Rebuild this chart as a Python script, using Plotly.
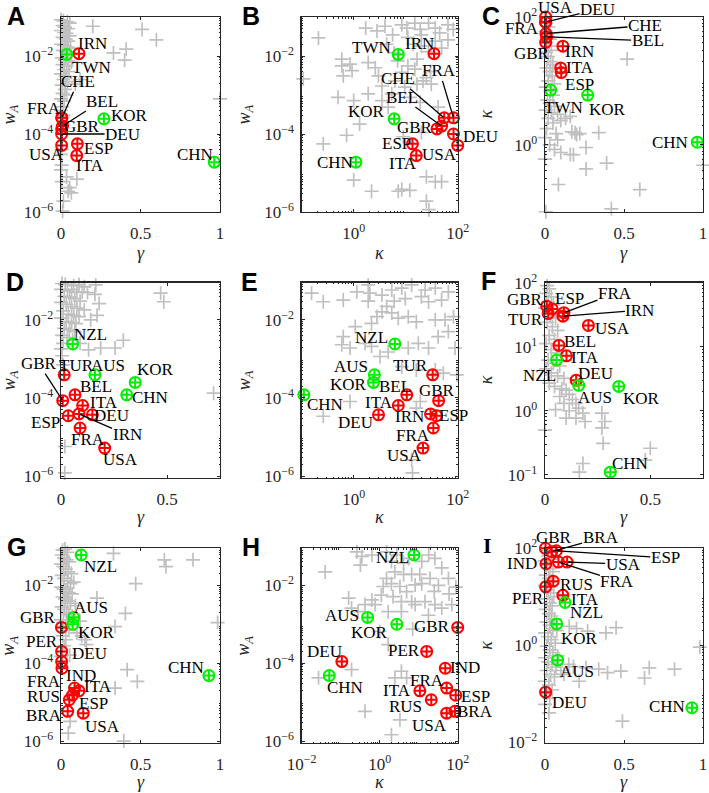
import numpy as np
import plotly.graph_objects as go

W, H = 709, 793
SERIF = "Liberation Serif"
GRAY = "#C0C0C0"
RED = "#FF0000"
GREEN = "#00F000"
AXC = "#262626"

# ---------------- highlighted countries ----------------
names1 = ['IRN', 'TWN', 'CHE', 'FRA', 'BEL', 'GBR', 'DEU', 'USA', 'ESP', 'ITA', 'KOR', 'CHN']
grp1 = ['r', 'g', 'r', 'r', 'r', 'r', 'r', 'r', 'r', 'r', 'g', 'g']
gamma1 = [0.113, 0.036, 0.006, 0.004, 0.01, 0.004, 0.004, 0.004, 0.103, 0.099, 0.27, 0.964]
kappa1 = [35, 7.2, 55, 83, 49, 40, 83, 100, 13.5, 16, 6.0, 1.1]
wA1 = [0.0115, 0.011, 2.6e-4, 2.6e-4, 1.6e-4, 1.35e-4, 1.0e-4, 5.1e-5, 5.6e-5, 2.8e-5, 2.45e-4, 1.9e-5]

names2 = ['NZL', 'TUR', 'AUS', 'KOR', 'CHN', 'GBR', 'BEL', 'ITA', 'DEU', 'IRN', 'ESP', 'FRA', 'USA']
grp2 = ['g', 'r', 'g', 'g', 'g', 'r', 'r', 'r', 'r', 'r', 'r', 'r', 'r']
gamma2 = [0.055, 0.015, 0.16, 0.35, 0.31, 0.008, 0.066, 0.102, 0.148, 0.085, 0.034, 0.09, 0.206]
kappa2 = [6.2, 33, 2.5, 2.4, 0.11, 43, 10.5, 7.2, 3.0, 30, 39, 34, 21.5]
wA2 = [2.4e-3, 3.9e-4, 3.9e-4, 2.5e-4, 1.2e-4, 8.5e-5, 1.2e-4, 6.4e-5, 3.7e-5, 3.9e-5, 3.5e-5, 1.7e-5, 5.2e-6]

names3 = ['NZL', 'AUS', 'KOR', 'GBR', 'PER', 'DEU', 'IND', 'CHN', 'FRA', 'ITA', 'ESP', 'RUS', 'BRA', 'USA']
grp3 = ['g', 'g', 'g', 'r', 'r', 'r', 'r', 'g', 'r', 'r', 'r', 'r', 'r', 'r']
gamma3 = [0.127, 0.08, 0.074, 0.003, 0.004, 0.004, 0.006, 0.93, 0.085, 0.113, 0.072, 0.052, 0.042, 0.14]
kappa3 = [7.6, 0.49, 2.75, 100, 16, 0.107, 48, 0.051, 52, 10.7, 89, 21, 85, 52]
wA3 = [0.06, 1.5e-3, 1.0e-3, 8.3e-4, 2.0e-4, 1.1e-4, 7.4e-5, 4.8e-5, 2.3e-5, 1.95e-5, 1.5e-5, 1.15e-5, 5.8e-6, 5.2e-6]

# ---------------- background (gray) countries ----------------
A_gray = [(0.005,0.16),(0.02,0.15),(0.035,0.14),(0.01,0.12),(0.03,0.11),(0.045,0.1),(0.0,0.085),(0.015,0.08),(0.04,0.075),(0.055,0.07),(0.01,0.06),(0.025,0.055),(0.045,0.05),(0.0,0.045),(0.02,0.04),(0.035,0.038),(0.055,0.033),(0.01,0.03),(0.03,0.027),(0.045,0.024),(0.0,0.02),(0.02,0.019),(0.04,0.017),(0.06,0.016),(0.01,0.014),(0.03,0.013),(0.05,0.012),(0.005,0.009),(0.025,0.008),(0.045,0.0075),(0.065,0.007),(0.01,0.006),(0.035,0.0055),(0.02,0.0045),(0.05,0.004),(0.0,0.0035),(0.03,0.003),(0.015,0.0025),(0.04,0.0022),(0.09,0.0019),(0.12,0.0025),(0.005,0.0018),(0.025,0.0014),(0.01,0.0011),(0.035,0.001),(0.0,0.0008),(0.02,0.0007),(0.01,0.0005),(0.0,0.0004),(0.015,0.0003),(0.2,0.058),(0.51,0.048),(0.6,0.026),(0.33,0.012),(0.41,0.015),(0.4,0.0078),(1.0,0.0008),(0.0,3e-5),(0.005,1.6e-5),(0.035,8e-6),(0.1,7e-6),(0.005,6e-6),(0.045,3.4e-6),(0.065,3.1e-6),(0.055,4.2e-6),(0.015,1.9e-6),(0.01,1.05e-6),(0.0,1.2e-5),(0.005,4e-5)]

B_gray = [(0.21,0.029),(0.107,0.0026),(0.59,0.0083),(0.59,0.0056),(0.85,0.0062),(0.93,0.0042),(0.63,0.0031),(0.5,0.00087),(1.0,0.00072),(1.3,0.00018),(0.73,9.3e-5),(0.26,5.6e-5),(1.0,6.6e-6),(2.2,3.4e-6),(7.2,3.4e-6),(8.4,3.8e-6),(12,3.6e-6),(25,8e-6),(37,6e-6),(25,1.9e-6),(28,1.15e-6),(1.7,0.052),(2.8,0.044),(4.0,0.058),(5.6,0.035),(8.4,0.063),(10.5,0.052),(15,0.07),(19,0.048),(20,0.035),(27.5,0.07),(37,0.052),(45,0.039),(65,0.063),(82,0.048),(4.3,0.02),(11,0.03),(14,0.02),(20,0.018),(27.5,0.013),(16.5,0.0083),(11,0.0056),(15,0.0046),(8.4,0.0038),(6.2,0.0023),(9.6,0.0016),(16.5,0.0019),(21.5,0.0023),(31,0.0019),(5.4,0.00107),(3.5,0.00072),(4.6,0.00049),(12,0.00087),(19,0.00065),(42,0.00049),(1.9,0.0068),(2.6,0.005),(3.0,0.0031),(3.5,0.0017),(1.9,0.00107),(49,6e-6),(9,8.5e-5),(20,0.00011),(37,0.024),(49,0.016),(65,0.026),(30,0.004),(25,0.0028),(6,0.012),(7,0.0075)]

C_gray = [(0.005,95),(0.01,80),(0.02,70),(0.005,60),(0.015,50),(0.03,45),(0.01,40),(0.025,35),(0.04,30),(0.005,28),(0.02,24),(0.035,20),(0.05,18),(0.01,16),(0.03,14),(0.045,12),(0.02,10),(0.06,9),(0.005,8),(0.035,7),(0.05,6),(0.015,5),(0.03,4.5),(0.06,4),(0.005,3.5),(0.04,3.2),(0.08,3),(0.02,2.6),(0.1,2.4),(0.05,2.2),(0.13,2.6),(0.16,2.8),(0.01,1.8),(0.07,1.5),(0.19,1.55),(0.2,1.45),(0.17,1.6),(0.22,1.5),(0.08,1.2),(0.03,1.0),(0.06,0.85),(0.1,0.76),(0.16,0.71),(0.18,0.7),(0.26,0.91),(0.34,1.55),(0.39,0.52),(0.26,0.42),(0.085,0.24),(0.6,0.2),(0.42,0.1),(1.0,0.48),(0.005,0.09),(0.52,22),(0.0,1.3),(0.0,0.6)]

D_gray = [(0.005,0.085),(0.02,0.08),(0.04,0.09),(0.06,0.075),(0.085,0.08),(0.11,0.07),(0.0,0.06),(0.03,0.055),(0.05,0.06),(0.075,0.05),(0.1,0.052),(0.125,0.05),(0.015,0.04),(0.04,0.038),(0.065,0.035),(0.09,0.03),(0.0,0.028),(0.025,0.025),(0.05,0.022),(0.075,0.02),(0.11,0.018),(0.01,0.017),(0.035,0.014),(0.06,0.013),(0.085,0.012),(0.0,0.011),(0.025,0.009),(0.05,0.0085),(0.07,0.008),(0.015,0.006),(0.04,0.0055),(0.065,0.005),(0.005,0.004),(0.03,0.0035),(0.055,0.003),(0.01,0.0025),(0.09,0.0025),(0.0,0.0018),(0.164,0.078),(0.18,0.026),(0.17,0.013),(0.14,0.01),(0.16,0.045),(0.47,0.048),(0.485,0.029),(0.294,0.003),(0.255,0.0019),(0.187,0.0019),(0.13,0.0017),(0.72,0.000132),(0.018,5.7e-6),(0.018,1.2e-6),(0.005,0.0012),(0.01,0.0007)]

E_gray = [(0.093,0.048),(0.155,0.048),(0.26,0.029),(0.63,0.032),(1.15,0.052),(1.9,0.078),(2.05,0.048),(3.5,0.043),(5.4,0.058),(8.4,0.065),(13,0.078),(23.6,0.058),(37,0.065),(66,0.052),(49,0.032),(27.5,0.029),(20,0.039),(9.8,0.035),(4.3,0.022),(3.5,0.016),(5.4,0.015),(7.2,0.011),(11.2,0.012),(16,0.0089),(37,0.01),(57,0.01),(83,0.012),(2.2,0.0081),(1.07,0.0067),(0.63,0.0037),(0.59,0.0023),(0.85,0.0019),(1.65,0.0025),(2.2,0.0021),(3.2,0.00115),(4.6,0.0015),(11.2,0.0019),(17.5,0.0025),(27.5,0.0019),(42,0.0037),(66,0.005),(89,0.0019),(8.4,0.00063),(16,0.00052),(37,0.00052),(53,0.00043),(96,0.00039),(0.85,8.1e-5),(0.26,3.4e-5),(19,8.1e-5),(16,5.5e-5),(13,2.6e-6),(13.5,1.2e-6),(1.9,0.03),(6,0.03),(2.8,0.012)]

F_gray = [(0.003,104),(0.01,90),(0.02,80),(0.005,68),(0.03,60),(0.015,50),(0.04,45),(0.0,40),(0.025,30),(0.05,28),(0.01,24),(0.035,20.6),(0.06,18),(0.02,15),(0.045,13),(0.005,11.2),(0.03,9),(0.055,8),(0.015,6.2),(0.04,5.5),(0.07,5),(0.005,4.5),(0.03,3.9),(0.06,3.5),(0.09,3.2),(0.02,2.7),(0.045,2.4),(0.08,2.2),(0.1,2.1),(0.115,1.8),(0.07,1.67),(0.13,1.5),(0.147,1.3),(0.09,1.3),(0.16,1.1),(0.05,1.04),(0.115,1.0),(0.18,0.92),(0.1,0.77),(0.147,0.77),(0.19,0.68),(0.27,0.92),(0.284,0.68),(0.27,0.54),(0.276,0.31),(0.18,0.15),(0.163,0.11),(0.5,0.26),(0.476,0.17),(0.756,0.144),(0.0,0.5)]

G_gray = [(0.0,0.09),(0.01,0.08),(0.025,0.085),(0.04,0.07),(0.005,0.06),(0.02,0.05),(0.035,0.045),(0.05,0.04),(0.0,0.035),(0.015,0.03),(0.03,0.026),(0.045,0.022),(0.065,0.02),(0.005,0.018),(0.02,0.015),(0.04,0.013),(0.06,0.011),(0.08,0.012),(0.0,0.009),(0.015,0.008),(0.03,0.007),(0.05,0.0065),(0.07,0.006),(0.01,0.005),(0.025,0.0045),(0.04,0.004),(0.06,0.0035),(0.09,0.003),(0.005,0.0028),(0.02,0.0024),(0.035,0.002),(0.05,0.0018),(0.07,0.0016),(0.12,0.0012),(0.0,0.0013),(0.015,0.0011),(0.03,0.0009),(0.05,0.0007),(0.1,0.0006),(0.13,0.0005),(0.01,0.0005),(0.03,0.0004),(0.02,0.00028),(0.055,0.00016),(0.0,0.00015),(0.33,0.066),(0.65,0.045),(0.66,0.03),(0.83,0.045),(0.47,0.011),(0.226,0.0047),(0.405,0.0019),(0.34,0.00087),(0.985,0.0011),(0.15,0.0004),(0.16,0.0003),(0.416,6.8e-5),(0.48,3.4e-5),(0.34,2.3e-5),(0.057,3.2e-6),(0.046,1.6e-6),(0.395,1e-6)]

H_gray = [(0.04,0.022),(0.26,0.072),(0.35,0.055),(0.32,0.033),(0.63,0.06),(1.5,0.072),(2.0,0.041),(2.75,0.06),(4.1,0.037),(5.5,0.049),(12,0.041),(18,0.06),(26,0.049),(39,0.028),(58,0.015),(32,0.01),(19.5,0.015),(10.7,0.019),(6.6,0.019),(4.1,0.019),(2.45,0.022),(1.5,0.015),(1.23,0.0093),(2.0,0.011),(3.3,0.0093),(4.9,0.0069),(8.1,0.0102),(12,0.011),(6.6,0.0038),(3.6,0.0038),(2.2,0.0051),(1.1,0.0056),(0.63,0.0042),(0.16,0.0047),(0.19,0.0026),(0.28,0.0021),(0.42,0.0032),(0.76,0.0032),(1.65,0.0021),(3.6,0.0021),(8.1,0.0032),(14.5,0.0038),(26,0.0032),(39,0.0026),(71,0.0032),(1.0,0.00065),(1.65,0.0003),(3.6,6.2e-5),(4.9,4.2e-5),(2.45,4.2e-5),(0.42,5.8e-6),(2.0,1.45e-6),(3.3,3.5e-6),(0.19,6.8e-5),(0.027,4.2e-5),(17.8,0.0017),(7,0.00075),(60,0.006),(90,0.009),(25,0.007)]

I_gray = [(0.005,90),(0.02,70),(0.04,60),(0.0,55),(0.015,45),(0.03,38),(0.05,33),(0.005,28),(0.025,24),(0.04,20),(0.0,17),(0.02,14),(0.035,12),(0.055,10),(0.01,9),(0.03,7.5),(0.045,6.5),(0.005,5.5),(0.025,4.5),(0.04,4),(0.06,3.5),(0.01,3),(0.03,2.6),(0.05,2.2),(0.075,2.0),(0.0,1.8),(0.02,1.5),(0.04,1.3),(0.065,1.1),(0.01,0.95),(0.03,0.8),(0.05,0.7),(0.08,0.6),(0.0,0.55),(0.02,0.45),(0.045,0.4),(0.07,0.35),(0.01,0.3),(0.035,0.25),(0.06,0.22),(0.0,0.18),(0.025,0.15),(0.045,0.12),(0.01,0.1),(0.03,0.08),(0.0,0.06),(0.025,0.04),(0.153,2.45),(0.2,2.2),(0.27,1.95),(0.386,1.8),(0.45,2.3),(0.98,0.91),(0.15,0.4),(0.18,0.36),(0.26,0.34),(0.34,0.32),(0.396,0.27),(0.48,0.29),(0.66,0.34),(0.63,0.21),(0.82,0.32),(0.216,0.18),(0.49,0.027),(0.1,0.3),(0.12,0.25)]

# ---------------- label placement (pixel offsets from point, leader line?) ----------------
labA = {'IRN':(14,-10,0),'TWN':(25,13,0),'CHE':(16,-36,1),'FRA':(-18,-9,0),'BEL':(39,-25,1),'GBR':(20,-2,0),
        'DEU':(61,0,1),'USA':(-15,9,0),'ESP':(21,5,0),'ITA':(13,10,0),'KOR':(26,-3,0),'CHN':(-19,-8,0)}
labB = {'TWN':(-27,-7,0),'IRN':(-14,-10,0),'FRA':(-14,-47,1),'CHE':(-46,-39,1),'BEL':(-40,-29,1),'GBR':(-22,-1,0),
        'DEU':(27,2,0),'USA':(-18,9,0),'ESP':(-16,0,0),'ITA':(-13,8,0),'KOR':(-28,-7,0),'CHN':(-21,0,0)}
labC = {'USA':(10,-10,0),'DEU':(52,-13,1),'FRA':(-24,6,0),'CHE':(99,-8,1),'BEL':(101,4,1),'GBR':(-14,11,0),
        'IRN':(17,5,0),'ITA':(19,0,0),'ESP':(18,12,0),'TWN':(13,17,0),'KOR':(20,14,0),'CHN':(-27,0,0)}
labD = {'NZL':(18,-10,0),'TUR':(12,-9,0),'AUS':(13,-9,0),'KOR':(20,-13,0),'CHN':(23,3,0),'GBR':(-24,-37,1),
        'BEL':(21,-8,0),'ITA':(21,-3,0),'DEU':(19,1,0),'IRN':(48,21,1),'ESP':(-23,7,0),'FRA':(8,12,0),'USA':(16,11,0)}
labE = {'NZL':(-23,-7,0),'AUS':(-23,-8,0),'KOR':(-25,2,0),'CHN':(21,10,0),'TUR':(-22,-9,0),'BEL':(-12,-8,0),
        'GBR':(-2,-10,0),'ITA':(-19,-3,0),'DEU':(-23,8,0),'IRN':(-21,3,0),'ESP':(17,0,0),'FRA':(-20,8,0),'USA':(-18,7,0)}
labF = {'GBR':(-22,-7,0),'ESP':(17,-10,0),'TUR':(-23,6,0),'FRA':(51,-19,1),'IRN':(77,-6,1),'USA':(24,3,0),
        'BEL':(21,-4,0),'ITA':(19,2,0),'NZL':(-17,15,0),'DEU':(19,-7,0),'AUS':(16,12,0),'KOR':(23,12,0),'CHN':(20,-9,0)}
labG = {'NZL':(19,12,0),'AUS':(17,-10,0),'KOR':(24,8,0),'GBR':(-23,-10,0),'PER':(-20,-10,0),'DEU':(28,-8,0),
        'IND':(19,7,0),'CHN':(-23,-8,0),'FRA':(-31,-7,0),'ITA':(19,-4,0),'ESP':(21,8,0),'RUS':(-26,-3,0),
        'BRA':(-24,4,0),'USA':(19,13,0)}
labH = {'NZL':(-22,3,0),'AUS':(-26,-2,0),'KOR':(-27,8,0),'GBR':(-26,-1,0),'PER':(-23,-1,0),'DEU':(-17,-10,0),
        'IND':(20,-1,0),'CHN':(16,12,0),'ITA':(-23,0,0),'FRA':(-20,-8,0),'ESP':(20,1,0),'RUS':(-26,7,0),
        'USA':(-17,12,0),'BRA':(20,0,0)}
labI = {'GBR':(9,-11,0),'BRA':(49,-14,1),'ESP':(109,7,1),'USA':(56,2,1),'FRA':(59,19,1),'IND':(-24,0,0),
        'RUS':(23,3,0),'PER':(-18,12,0),'ITA':(22,4,0),'NZL':(21,10,0),'KOR':(23,15,0),'AUS':(19,11,0),
        'DEU':(24,10,0),'CHN':(-25,-1,0)}

# ---------------- panel geometry (pixels) ----------------
cols = [(61, 220), (301.7, 457.7), (545, 703)]
rows = [(17, 212), (282.7, 478), (548.3, 743)]

panels = [
    dict(L='A', n=names1, g=grp1, x=gamma1, y=wA1, gray=A_gray, xl=False, yl=True, xr=[0, 1], yr=[-6, -1], xt=[0, 0.5, 1], yt=[1e-6, 1e-4, 1e-2], xv='γ', yv='w', lab=labA),
    dict(L='B', n=names1, g=grp1, x=kappa1, y=wA1, gray=B_gray, xl=True, yl=True, xr=[-1, 2], yr=[-6, -1], xt=[1, 100], yt=[1e-6, 1e-4, 1e-2], xv='κ', yv='w', lab=labB),
    dict(L='C', n=names1, g=grp1, x=gamma1, y=kappa1, gray=C_gray, xl=False, yl=True, xr=[0, 1], yr=[-1.05, 2], xt=[0, 0.5, 1], yt=[1, 100], xv='γ', yv='κ', lab=labC),
    dict(L='D', n=names2, g=grp2, x=gamma2, y=wA2, gray=D_gray, xl=False, yl=True, xr=[0, 0.75], yr=[-6.05, -1.05], xt=[0, 0.5], yt=[1e-6, 1e-4, 1e-2], xv='γ', yv='w', lab=labD),
    dict(L='E', n=names2, g=grp2, x=kappa2, y=wA2, gray=E_gray, xl=True, yl=True, xr=[-1, 2], yr=[-6.05, -1.05], xt=[1, 100], yt=[1e-6, 1e-4, 1e-2], xv='κ', yv='w', lab=labE),
    dict(L='F', n=names2, g=grp2, x=gamma2, y=kappa2, gray=F_gray, xl=False, yl=True, xr=[0, 0.75], yr=[-1.05, 2], xt=[0, 0.5], yt=[0.1, 1, 10, 100], xv='γ', yv='κ', lab=labF),
    dict(L='G', n=names3, g=grp3, x=gamma3, y=wA3, gray=G_gray, xl=False, yl=True, xr=[0, 1], yr=[-6.05, -1.05], xt=[0, 0.5, 1], yt=[1e-6, 1e-4, 1e-2], xv='γ', yv='w', lab=labG),
    dict(L='H', n=names3, g=grp3, x=kappa3, y=wA3, gray=H_gray, xl=True, yl=True, xr=[-2, 2], yr=[-6.05, -1.05], xt=[0.01, 1, 100], yt=[1e-6, 1e-4, 1e-2], xv='κ', yv='w', lab=labH),
    dict(L='I', n=names3, g=grp3, x=gamma3, y=kappa3, gray=I_gray, xl=False, yl=True, xr=[0, 1], yr=[-2.02, 2], xt=[0, 0.5, 1], yt=[0.01, 1, 100], xv='γ', yv='κ', lab=labI),
]

def logtxt(v):
    e = int(round(np.log10(v)))
    s = str(e).replace('-', '−')
    return f"10<sup>{s}</sup>"

def lintxt(v):
    return f"{v:g}"

def minor_vals(r):
    vals = []
    for k in range(int(np.floor(r[0])) - 1, int(np.ceil(r[1])) + 1):
        for m in range(2, 10):
            v = m * 10.0 ** k
            if r[0] <= np.log10(v) <= r[1]:
                vals.append(v)
    return vals

fig = go.Figure()
layout = dict(width=W, height=H, autosize=False, margin=dict(l=0, r=0, t=0, b=0, pad=0, autoexpand=False),
              plot_bgcolor='white', paper_bgcolor='white', showlegend=False)
annotations = []
tfont = dict(family=SERIF, size=17, color='black')

for i, p in enumerate(panels):
    k = i + 1
    sfx = '' if k == 1 else str(k)
    xa, ya = 'x' + sfx, 'y' + sfx
    col, row = i % 3, i // 3
    c0, c1 = cols[col]
    r0, r1 = rows[row]

    gx = [a for a, b in p['gray']]
    gy = [b for a, b in p['gray']]
    fig.add_trace(go.Scatter(x=gx, y=gy, mode='markers', xaxis=xa, yaxis=ya, cliponaxis=False,
                             hoverinfo='skip',
                             marker=dict(symbol='cross-thin', size=10, color=GRAY,
                                         line=dict(width=1.7, color=GRAY))))
    for grp, colr in (('r', RED), ('g', GREEN)):
        idx = [j for j, gg in enumerate(p['g']) if gg == grp]
        fig.add_trace(go.Scatter(x=[p['x'][j] for j in idx], y=[p['y'][j] for j in idx],
                                 mode='markers', xaxis=xa, yaxis=ya, cliponaxis=False,
                                 text=[p['n'][j] for j in idx],
                                 marker=dict(symbol='circle-cross-open', size=11, color=colr,
                                             line=dict(width=2, color=colr))))

    common = dict(showline=True, linecolor=AXC, linewidth=1.3, mirror='ticks', ticks='inside',
                  ticklen=3, tickwidth=1, tickcolor=AXC, showgrid=False, zeroline=False,
                  automargin=False,
                  tickfont=dict(family=SERIF, size=17, color=AXC), tickangle=0)
    xax = dict(common, domain=[c0 / W, c1 / W], anchor=ya, range=p['xr'],
               type='log' if p['xl'] else 'linear', tickvals=p['xt'],
               ticktext=[logtxt(v) if p['xl'] else lintxt(v) for v in p['xt']],
               ticklabelstandoff=5)
    if p['xl']:
        xax['minor'] = dict(ticks='inside', ticklen=1.5, tickcolor=AXC, tickvals=minor_vals(p['xr']))
    yax = dict(common, domain=[1 - r1 / H, 1 - r0 / H], anchor=xa, range=p['yr'],
               type='log' if p['yl'] else 'linear', tickvals=p['yt'],
               ticktext=[logtxt(v) if p['yl'] else lintxt(v) for v in p['yt']],
               ticklabelstandoff=3)
    if p['yl']:
        yax['minor'] = dict(ticks='inside', ticklen=1.5, tickcolor=AXC, tickvals=minor_vals(p['yr']))
    layout['xaxis' + sfx] = xax
    layout['yaxis' + sfx] = yax

    # country labels
    for j, nm in enumerate(p['n']):
        dx, dy, lead = p['lab'][nm]
        X = np.log10(p['x'][j]) if p['xl'] else p['x'][j]
        Y = np.log10(p['y'][j]) if p['yl'] else p['y'][j]
        if lead:
            annotations.append(dict(x=X, y=Y, xref=xa, yref=ya, text=nm, font=tfont,
                                    showarrow=True, ax=dx, ay=dy, arrowhead=0, arrowwidth=1.3,
                                    arrowcolor='black', standoff=1, borderpad=0))
        else:
            annotations.append(dict(x=X, y=Y, xref=xa, yref=ya, text=nm, font=tfont,
                                    showarrow=False, xshift=dx, yshift=-dy,
                                    xanchor='center', yanchor='middle'))

    # axis titles
    xtitle_y = [253, 517, 782][row]
    annotations.append(dict(x=(c0 + c1) / 2 / W, y=1 - xtitle_y / H, xref='paper', yref='paper',
                            text=f"<i>{p['xv']}</i>", showarrow=False, font=dict(family=SERIF, size=18, color=AXC),
                            xanchor='center', yanchor='middle'))
    ytxt = "<i>w</i><sub><i>A</i></sub>" if p['yv'] == 'w' else "<i>κ</i>"
    annotations.append(dict(x=[10, 245, 486][col] / W, y=1 - (r0 + r1) / 2 / H, xref='paper', yref='paper',
                            text=ytxt, textangle=-90, showarrow=False,
                            font=dict(family=SERIF, size=18, color=AXC), xanchor='center', yanchor='middle'))

# panel letters
letters = [('A', 16, 16), ('B', 251, 16), ('C', 491, 16), ('D', 15, 282), ('E', 249, 282),
           ('F', 488, 281), ('G', 16, 547), ('H', 251, 547), ('I', 487, 545)]
for t, lx, ly in letters:
    fam = "Liberation Serif" if t == 'I' else "Liberation Sans"
    annotations.append(dict(x=lx / W, y=1 - ly / H, xref='paper', yref='paper', text=f"<b>{t}</b>",
                            showarrow=False, font=dict(family=fam, size=25 if t != 'I' else 22, color='black'),
                            xanchor='center', yanchor='middle'))

layout['annotations'] = annotations
fig.update_layout(**layout)
fig.write_html("out.html", config={'displayModeBar': False, 'staticPlot': True},
               post_script="document.body.style.margin='0';document.body.style.padding='0';"
                           "document.body.style.overflow='hidden';")
